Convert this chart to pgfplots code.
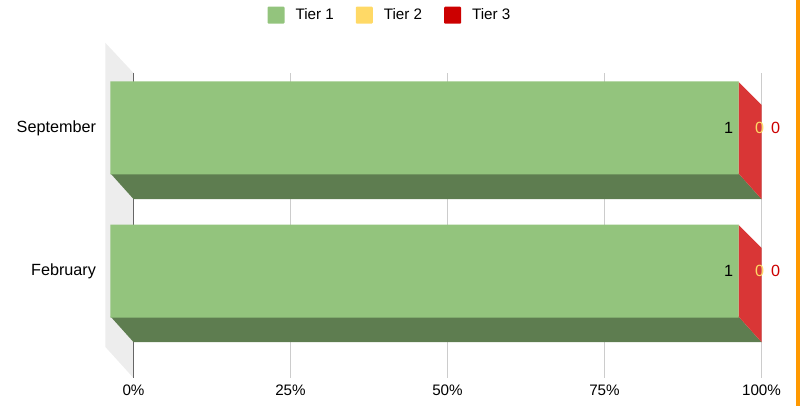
\documentclass[border=0pt]{standalone}
\usepackage{fontspec}
\setmainfont{Liberation Sans}
\usepackage{pgfplots}
\pgfplotsset{compat=1.18}
\definecolor{tierone}{HTML}{93C47D}
\definecolor{tiertwo}{HTML}{FFD966}
\definecolor{tierthree}{HTML}{CC0000}
\definecolor{sidered}{HTML}{D93636}
\definecolor{bottomgreen}{HTML}{5E7D50}
\newcommand{\chartfont}{\fontsize{15.2}{18}\selectfont}
\newcommand{\catfont}{\fontsize{16.2}{18}\selectfont}
\pgfplotsset{
  common/.style={
    scale only axis, width=628pt, height=305pt,
    xmin=0, xmax=100, ymin=-0.58, ymax=1.552,
    clip=false,
  },
}
\begin{document}
\begin{tikzpicture}
\path[use as bounding box] (-133.5pt,-28pt) rectangle (666.5pt,378pt);
% back plane: wall, grid, x labels, side faces
\begin{axis}[
  common,
  axis line style={draw=none},
  major tick style={draw=none},
  ytick=\empty,
  xtick={0,25,50,75,100},
  xticklabels={0\%,25\%,50\%,75\%,100\%},
  xticklabel style={font=\chartfont, yshift=-3pt},
  xmajorgrids,
  grid style={draw=black!20, line width=1pt},
]
\addplot[fill=black!7, draw=none] coordinates {(-4.46,1.762) (0,1.552) (0,-0.58) (-4.46,-0.364)} -- cycle;
\addplot[draw=black!60, line width=1pt] coordinates {(0,1.552) (0,-0.58)};
% depth faces, September
\addplot[fill=bottomgreen, draw=none] coordinates {(-3.66,0.85) (96.34,0.85) (100,0.671) (0,0.671)} -- cycle;
\addplot[fill=sidered, draw=none] coordinates {(96.34,1.490) (100,1.329) (100,0.671) (96.34,0.85)} -- cycle;
% depth faces, February
\addplot[fill=bottomgreen, draw=none] coordinates {(-3.66,-0.15) (96.34,-0.15) (100,-0.329) (0,-0.329)} -- cycle;
\addplot[fill=sidered, draw=none] coordinates {(96.34,0.490) (100,0.329) (100,-0.329) (96.34,-0.15)} -- cycle;
\end{axis}
% front plane: bars, y labels, legend
\begin{axis}[
  common,
  at={(-23pt,24pt)},
  axis line style={draw=none},
  major tick style={draw=none},
  xbar stacked,
  stacked ignores zero=false,
  bar width=93pt,
  xtick=\empty,
  ytick={0,1},
  yticklabels={February,September},
  yticklabel style={font=\catfont, xshift=-11pt},
  point meta=explicit symbolic,
  legend columns=3,
  legend style={draw=none, fill=none, font=\chartfont, at={(0.445,1.111)}, anchor=center,
    /tikz/every odd column/.append style={column sep=9pt},
    /tikz/every even column/.append style={column sep=20pt}},
  legend image code/.code={\fill[#1, rounded corners=1pt] (0pt,-8.5pt) rectangle (17pt,8.5pt);},
]
\addplot[fill=tierone, draw=none, nodes near coords,
  nodes near coords style={anchor=center, text=black, xshift=304pt, yshift=0.5pt, font=\catfont}]
  coordinates {(100,0) [1] (100,1) [1]};
\addplot[fill=tiertwo, draw=none, nodes near coords,
  nodes near coords style={anchor=center, text=tiertwo, xshift=21pt, yshift=0.5pt, font=\catfont}]
  coordinates {(0,0) [0] (0,1) [0]};
\addplot[fill=tierthree, draw=none, nodes near coords,
  nodes near coords style={anchor=center, text=tierthree, xshift=37pt, yshift=0.5pt, font=\catfont}]
  coordinates {(0,0) [0] (0,1) [0]};
\legend{Tier 1,Tier 2,Tier 3}
\end{axis}
\fill[orange!80!yellow] (662.5pt,-28pt) rectangle (666.5pt,378pt);
\end{tikzpicture}
\end{document}
